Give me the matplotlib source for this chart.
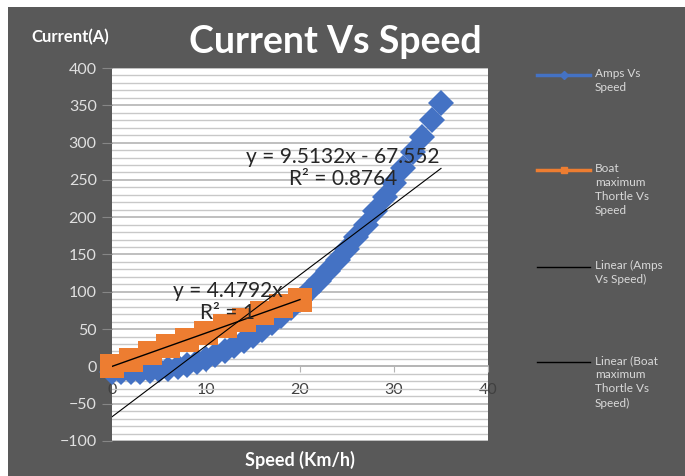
import matplotlib
matplotlib.use("Agg")
import matplotlib.pyplot as plt
from matplotlib.lines import Line2D
from matplotlib.patches import Rectangle
from matplotlib.ticker import MultipleLocator

plt.rcParams['font.family'] = ['Lato', 'DejaVu Sans']

# data
amps_speed = list(range(0, 36))
amps_current = [-7, -7, -7, -7, -6, -5, -3, -1, 2, 6,
                10, 15, 21, 27, 34, 41, 49, 58, 68, 78,
                89, 101, 114, 128, 142, 157, 173, 190, 208, 227,
                246, 266, 287, 308, 330, 353]
boat_speed = [0, 2, 4, 6, 8, 10, 12, 14, 16, 18, 20]
boat_current = [0, 9.0, 17.9, 26.9, 35.8, 44.8, 53.8, 62.7, 71.7, 80.6, 89.6]

# trendline coefficients shown on the chart
amps_fit = (9.5132, -67.552)
boat_fit = (4.4792, 0.0)

x_ticks = [0, 10, 20, 30, 40]
y_ticks = [-100, -50, 0, 50, 100, 150, 200, 250, 300, 350, 400]

blue = '#4472C4'
orange = '#ED7D31'
bg = '#595959'

W, H = 685, 476
fig = plt.figure(figsize=(W / 100, H / 100), dpi=100, facecolor='white')
fig.patches.append(Rectangle((8 / W, 0), 1, (H - 7) / H, transform=fig.transFigure,
                             facecolor=bg, edgecolor='none', zorder=-10))

ax = fig.add_axes([112 / W, 1 - 441 / H, 376 / W, 373 / H])
ax.set_facecolor('white')
ax.set_xlim(0, 40)
ax.set_ylim(-100, 400)

ax.yaxis.set_major_locator(MultipleLocator(50))
ax.yaxis.set_minor_locator(MultipleLocator(10))
ax.set_xticks(x_ticks)
ax.set_yticks(y_ticks)
ax.grid(axis='y', which='major', color='#B4B4B4', linewidth=1.2, zorder=0)
ax.grid(axis='y', which='minor', color='#C8C8C8', linewidth=1.0, zorder=0)
ax.set_axisbelow(True)

for s in ['top', 'right', 'left']:
    ax.spines[s].set_visible(False)
ax.spines['bottom'].set_position(('data', 0))
ax.spines['bottom'].set_color('#B4B4B4')
ax.spines['bottom'].set_linewidth(1.2)

ax.tick_params(axis='x', which='both', direction='out', length=4, color='#B4B4B4',
               labelsize=11.5, labelcolor='#404040', pad=8)
ax.tick_params(axis='y', which='major', direction='out', length=7, color='#868686',
               labelsize=11.5, labelcolor='#E0E0E0', pad=4)
ax.tick_params(axis='y', which='minor', length=0)

# series
ax.plot(amps_speed, amps_current, linestyle='none', marker='D', markersize=13,
        color=blue, markeredgewidth=0, zorder=3, clip_on=False)
ax.plot(boat_speed, boat_current, linestyle='none', marker='s', markersize=17,
        color=orange, markeredgewidth=0, zorder=4, clip_on=False)

# linear trendlines
ax.plot([amps_speed[0], amps_speed[-1]],
        [amps_fit[0] * amps_speed[0] + amps_fit[1], amps_fit[0] * amps_speed[-1] + amps_fit[1]],
        color='black', linewidth=0.8, zorder=5)
ax.plot([boat_speed[0], boat_speed[-1]],
        [boat_fit[0] * boat_speed[0] + boat_fit[1], boat_fit[0] * boat_speed[-1] + boat_fit[1]],
        color='black', linewidth=1.0, zorder=5)

ax.text(24.6, 266, 'y = 9.5132x - 67.552\nR² = 0.8764', ha='center', va='center',
        fontsize=15, color='#262626', linespacing=1.15, zorder=6)
ax.text(12.3, 86, 'y = 4.4792x\nR² = 1', ha='center', va='center',
        fontsize=15, color='#262626', linespacing=1.15, zorder=6)

# titles
fig.text(335 / W, 1 - 42 / H, 'Current Vs Speed', ha='center', va='center',
         fontsize=27, fontweight='bold', color='white')
fig.text(70 / W, 1 - 37 / H, 'Current(A)', ha='center', va='center',
         fontsize=12, fontweight='bold', color='white')
fig.text(300 / W, 1 - 460 / H, 'Speed (Km/h)', ha='center', va='center',
         fontsize=13, fontweight='bold', color='white')

# legend drawn on the right side
legend_items = [
    (75, blue, 'D', 2.5, 'Amps Vs\nSpeed'),
    (170, orange, 's', 2.5, 'Boat\nmaximum\nThortle Vs\nSpeed'),
    (267, 'black', None, 1.0, 'Linear (Amps\nVs Speed)'),
    (362, 'black', None, 1.0, 'Linear (Boat\nmaximum\nThortle Vs\nSpeed)'),
]
for ypx, col, mk, lw, label in legend_items:
    yf = 1 - ypx / H
    fig.add_artist(Line2D([537 / W, 590 / W], [yf, yf], transform=fig.transFigure,
                          color=col, linewidth=lw))
    if mk is not None:
        fig.add_artist(Line2D([563.5 / W], [yf], transform=fig.transFigure, color=col,
                              marker=mk, markersize=5 if mk == 's' else 4, linestyle='none'))
    fig.text(595 / W, yf + 7 / H, label, ha='left', va='top', fontsize=8.5,
             color='#D9D9D9', linespacing=1.35)

fig.savefig('out.png', dpi=100, facecolor=fig.get_facecolor())
